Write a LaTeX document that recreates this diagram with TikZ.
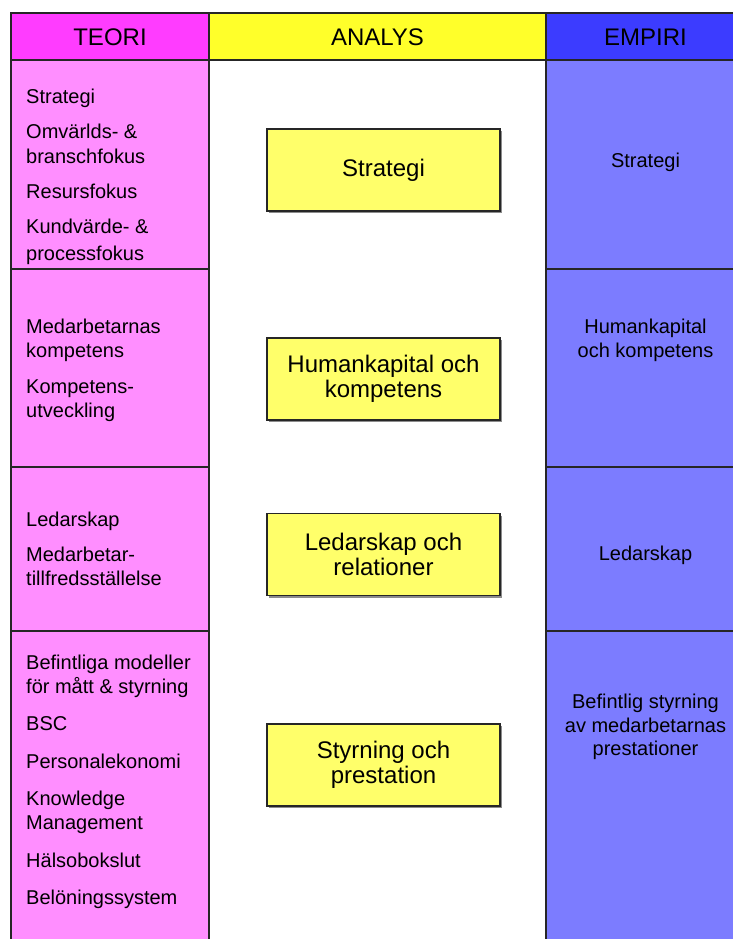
\documentclass[tikz,border=0pt]{standalone}
\usepackage{fontspec}
\setmainfont{Liberation Sans}
\usetikzlibrary{shadows}

% Colors
\definecolor{teorihead}{HTML}{FF3CFF}
\definecolor{teoribody}{HTML}{FF8EFF}
\definecolor{analyshead}{HTML}{FFFF2A}
\definecolor{analysbody}{HTML}{FFFF6A}
\definecolor{empirihead}{HTML}{3C3CFF}
\definecolor{empiribody}{HTML}{7C7CFF}

\tikzset{
  cellline/.style={line width=1.3pt, black!85},
  headtext/.style={anchor=base, inner sep=0pt, font=\fontsize{24}{26}\selectfont},
  teoritext/.style={anchor=base west, inner sep=0pt, font=\fontsize{20}{24}\selectfont},
  empiritext/.style={anchor=base, inner sep=0pt, font=\fontsize{20}{24}\selectfont},
  analysbox/.style={draw=black!85, line width=1.3pt, fill=analysbody,
    minimum width=233pt, minimum height=82pt, align=center, inner sep=0pt,
    font=\fontsize{24}{25}\selectfont,
    drop shadow={shadow xshift=2pt, shadow yshift=-2pt, fill=black!45, opacity=1}},
}

\begin{document}
\begin{tikzpicture}[x=1pt, y=-1pt]
  \useasboundingbox (0,0) rectangle (732,939);

  % Header row
  \fill[teorihead] (11,13) rectangle (209,60);
  \fill[analyshead] (209,13) rectangle (546,60);
  \fill[empirihead] (546,13) rectangle (745,60);

  % Body columns
  \fill[teoribody] (11,60) rectangle (209,950);
  \fill[empiribody] (546,60) rectangle (745,950);

  % Cell borders
  \draw[cellline] (11,13) rectangle (745,60);
  \draw[cellline] (209,13) -- (209,60) (546,13) -- (546,60);
  \foreach \ya/\yb in {60/269, 269/467, 467/631, 631/950} {
    \draw[cellline] (11,\ya) rectangle (209,\yb);
    \draw[cellline] (546,\ya) rectangle (745,\yb);
  }

  % Headers
  \node[headtext] (head-teori) at (110,46) {TEORI};
  \node[headtext] (head-analys) at (377.5,46) {ANALYS};
  \node[headtext] (head-empiri) at (645.5,46) {EMPIRI};

  % TEORI column
  \foreach \yb/\txt [count=\i] in {
    103/Strategi, 139/Omvärlds- \&, 163/branschfokus, 198/Resursfokus,
    233/Kundvärde- \&, 260/processfokus,
    333/Medarbetarnas, 357/kompetens, 393/Kompetens-, 417/utveckling,
    526/Ledarskap, 561/Medarbetar-, 585/tillfredsställelse,
    669/Befintliga modeller, 693/för mått \& styrning, 730.5/BSC,
    768/Personalekonomi, 805.5/Knowledge, 829.5/Management,
    867/Hälsobokslut, 904.5/Belöningssystem}
    \node[teoritext] (teori-\i) at (26,\yb) {\txt};

  % ANALYS boxes
  \node[analysbox] (analys-strategi) at (383.5,170) {Strategi};
  \node[analysbox] (analys-human) at (383.5,379) {Humankapital och\\kompetens};
  \node[analysbox] (analys-ledarskap) at (383.5,554.5) {Ledarskap och\\relationer};
  \node[analysbox] (analys-styrning) at (383.5,765) {Styrning och\\prestation};

  % EMPIRI column
  \foreach \yb/\txt [count=\i] in {
    167/Strategi, 333/Humankapital, 357/och kompetens, 560/Ledarskap,
    708/Befintlig styrning, 732/av medarbetarnas, 755/prestationer}
    \node[empiritext] (empiri-\i) at (645.5,\yb) {\txt};

\end{tikzpicture}
\end{document}
